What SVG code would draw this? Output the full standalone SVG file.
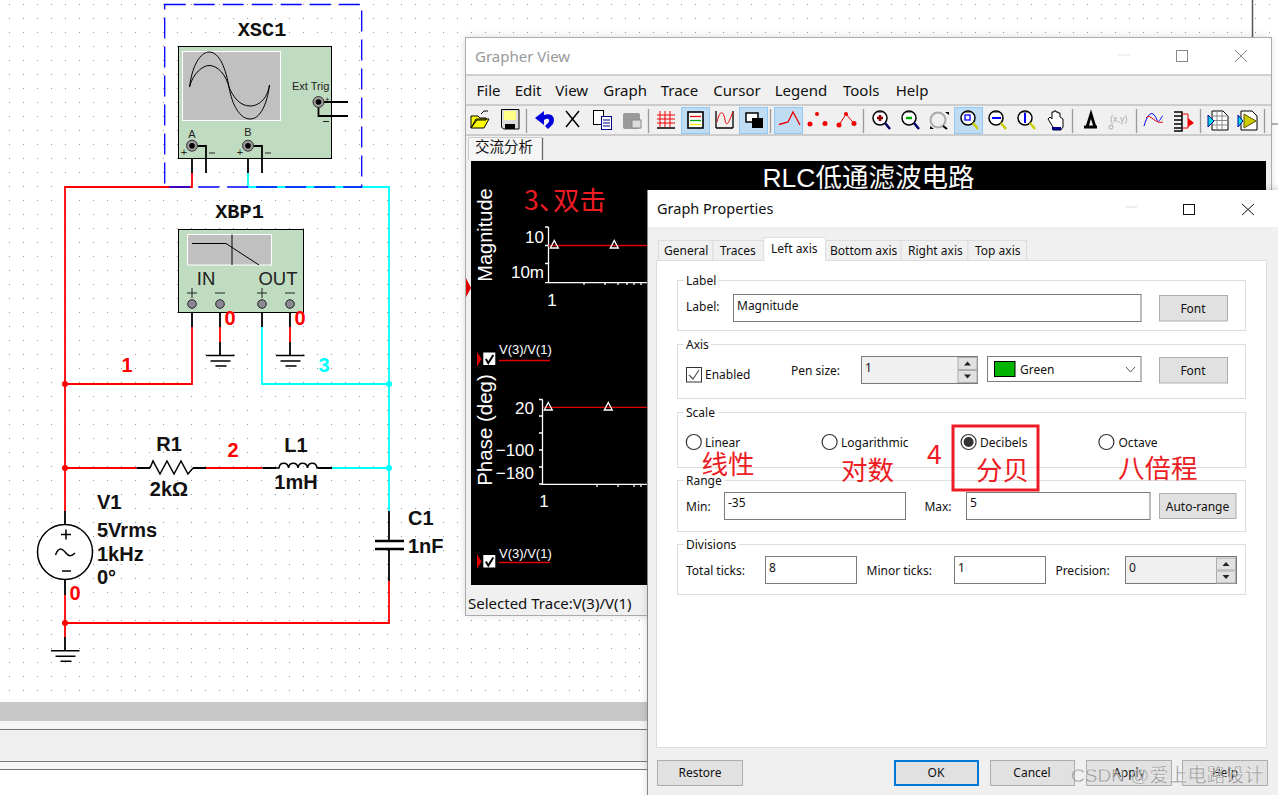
<svg xmlns="http://www.w3.org/2000/svg" xmlns:xlink="http://www.w3.org/1999/xlink" width="1278" height="795" viewBox="0 0 1278 795">
<defs>
<pattern id="grid" patternUnits="userSpaceOnUse" width="14" height="14"><rect x="9" y="4" width="1" height="1" fill="#969696"/></pattern>
<filter id="sh" x="-5%" y="-5%" width="110%" height="110%"><feGaussianBlur stdDeviation="4"/></filter>
<g id="gnd"><path d="M-14.500 0H14M-10 5.500H10M-5 10.500H6" stroke="#000" stroke-width="1.600" fill="none"/></g>
<g id="term"><circle r="5.500" fill="#9a9a9a" stroke="#333"/><circle r="2.800" fill="#000"/></g>
<g id="pin"><circle r="4.300" fill="#8c8794" stroke="#222"/></g>
<g id="mag"><circle cx="8" cy="7" r="7" fill="#fff" stroke="#000" stroke-width="1.500"/><path d="M5 1.500h6" stroke="#888"/></g>
<path id="tri" d="M0-4.500L4 3H-4Z" fill="none" stroke="#fff" stroke-width="1.300"/>
<g id="chk"><rect width="12" height="12.500" fill="#fff"/><path d="M2.500 6.500L5 10.500L10 2.500" fill="none" stroke="#000" stroke-width="2"/></g>
<g id="spin"><rect width="19" height="12" fill="#e1e1e1" stroke="#adadad"/><rect y="13" width="19" height="12" fill="#e1e1e1" stroke="#adadad"/><path d="M6 8l3.500-4l3.500 4zM6 17l3.500 4l3.500-4z" fill="#222"/></g>
</defs>
<style>
text{white-space:pre}
.ui{font-family:"Noto Sans","Noto Sans CJK SC",sans-serif;font-size:12px;fill:#111}
.mid{text-anchor:middle}
.end{text-anchor:end}
.menu{font-family:"Noto Sans",sans-serif;font-size:15px;fill:#111}
.plot{font-family:"Liberation Sans","Noto Sans CJK SC",sans-serif;fill:#fff}
.cn{font-family:"Noto Sans CJK SC",sans-serif;fill:#ed1c24;font-size:26.500px}
.comp{font-family:"Liberation Sans",sans-serif;font-weight:bold;font-size:20px;fill:#111}
.net{font-family:"Liberation Sans",sans-serif;font-weight:bold;font-size:20px;fill:#f00;text-anchor:middle}
.mono{font-family:"Liberation Mono",monospace;font-weight:bold;font-size:20.300px;fill:#111;text-anchor:middle}
.sm{font-family:"Liberation Sans",sans-serif;fill:#222}
.k{fill:none;stroke:#000;stroke-width:1.800}
.r{fill:none;stroke:#f00;stroke-width:1.800}
.c{fill:none;stroke:#0ff;stroke-width:1.800}
.g{fill:none;stroke:#ddd}
.box{fill:#fff;stroke:#7a7a7a}
.btn{fill:#e1e1e1;stroke:#adadad}
.on{fill:#c0dcf3;stroke:#90c8f6}
.sep{stroke:#999;stroke-width:1.300}
.radio{fill:#fff;stroke:#333;stroke-width:1.200}
.tab{fill:#f0f0f0;stroke:#ddd}
.ax{fill:none;stroke:#fff;stroke-width:1.300}
.tr{stroke:#e00000;stroke-width:1.300}
</style>

<rect width="1278" height="795" fill="#fff"/>
<rect width="1278" height="702" fill="url(#grid)"/>
<g id="bottom-bars">
<rect y="702" width="650" height="19" fill="#c8c8c8"/>
<rect y="721" width="650" height="48" fill="#f5f5f5"/>
<rect y="729" width="650" height="32" fill="#efefef"/>
<path d="M0 729.500H650M0 761.500H650M0 769.500H650" stroke="#777" fill="none"/>
</g>
<path d="M1252.500 0V37" stroke="#555" stroke-width="1.500"/>
<path d="M1271 124H1278" stroke="#999" stroke-width="1.500"/>

<g id="connectors">
<path class="r" d="M192 173V187H65V511"/>
<path class="r" d="M65 595V637"/>
<path class="r" d="M65 384H192V327"/>
<path class="r" d="M65 468H136.500"/>
<path class="r" d="M206 468H262.500"/>
<path class="r" d="M389 581V623H65"/>
<path class="r" d="M220 327V342M290 327V342"/>
<path class="c" d="M248 173V187H389V511"/>
<path class="c" d="M262 327V384H389"/>
<path class="c" d="M332 468H389"/>
<path class="k" d="M192 146V173M248 146V173M192 304V327M220 304V327M262 304V327M290 304V327M220 342V356M290 342V356"/>
<path class="k" d="M65 511V525M65 580V595M65 637V651M136.500 468H150M193 468H206M262.500 468H276M318 468H332M389 511V541M389 549V581"/>
<g fill="#f00"><circle cx="65" cy="384" r="3"/><circle cx="65" cy="468" r="3"/><circle cx="65" cy="623" r="3"/></g>
<g fill="#0ff"><circle cx="389" cy="384" r="3"/><circle cx="389" cy="468" r="3"/></g>
</g>

<g id="XSC1">
<rect x="164.700" y="4.500" width="197" height="182.500" fill="none" stroke="#00f" stroke-width="1.300" stroke-dasharray="21 8"/>
<text class="mono" x="262" y="35.500">XSC1</text>
<rect x="178.500" y="46.500" width="153" height="112" fill="#c0dcc0" stroke="#000"/>
<rect x="182.500" y="51.500" width="98" height="69" fill="#c0c0c0" stroke="#fff"/>
<path d="M189.500 87C193 60 203 52 209 52C220 52 226 70 229 87C232 105 240 119 250 119C260 119 267 105 269.500 85" fill="none" stroke="#000"/>
<path d="M189.500 87C193 73 203 65.500 209 65.500C218 65.500 226 75 229 87C233 97 240 106 250 106C258 106 267 100 269.500 85" fill="none" stroke="#000"/>
<text class="sm" x="292" y="89.500" font-size="11">Ext Trig</text>
<path class="k" d="M318.500 102H348M318.500 102V116H348"/>
<use xlink:href="#term" href="#term" x="318.500" y="102"/>
<text class="sm" x="325" y="102" font-size="8">+</text>
<path d="M323 121.500H329" stroke="#222"/>
<path class="k" d="M192 146H206V173M248 146H262V173"/>
<use xlink:href="#term" href="#term" x="192" y="145.700"/>
<use xlink:href="#term" href="#term" x="248" y="145.700"/>
<text class="sm mid" x="192" y="138" font-size="11">A</text>
<text class="sm mid" x="248" y="136" font-size="11">B</text>
<text class="sm mid" x="184" y="156" font-size="11">+</text>
<text class="sm mid" x="240" y="156" font-size="11">+</text>
<path d="M209 153H215M265 153H271" stroke="#222"/>
</g>

<g id="XBP1">
<text class="mono" x="239.500" y="218">XBP1</text>
<rect x="178.500" y="229.500" width="125" height="83" fill="#c0dcc0" stroke="#000"/>
<rect x="187.500" y="234.500" width="84" height="30.500" fill="#c0c0c0" stroke="#fff"/>
<path d="M192 243.500H226L259 265M232 234.500V265" fill="none" stroke="#000"/>
<text class="sm mid" x="206" y="285" font-size="18.500">IN</text>
<text class="sm mid" x="278" y="285" font-size="18.500">OUT</text>
<path d="M187 293H197M192 288V298M215 293H225M257 293H267M262 288V298M285 293H295" stroke="#222" fill="none"/>
<use xlink:href="#pin" href="#pin" x="192" y="304"/>
<use xlink:href="#pin" href="#pin" x="220" y="304"/>
<use xlink:href="#pin" href="#pin" x="262" y="304"/>
<use xlink:href="#pin" href="#pin" x="290" y="304"/>
</g>

<g id="GND1"><use xlink:href="#gnd" href="#gnd" x="220.500" y="355.500"/></g>
<g id="GND2"><use xlink:href="#gnd" href="#gnd" x="290.500" y="355.500"/></g>
<g id="GND3"><use xlink:href="#gnd" href="#gnd" x="65.500" y="650.700"/></g>

<g id="R1">
<path d="M150 468L153 461L160 474L167 461L174 474L181 461L188 474L193 468" fill="none" stroke="#000" stroke-width="1.500"/>
<text class="comp mid" x="169" y="451">R1</text>
<text class="comp mid" x="169" y="495.500">2kΩ</text>
</g>
<g id="L1">
<path d="M276 468H279a4.800 5.500 0 0 1 9.500 0a4.800 5.500 0 0 1 9.500 0a4.800 5.500 0 0 1 9.500 0a4.800 5.500 0 0 1 9.500 0H318" fill="none" stroke="#000" stroke-width="1.500"/>
<text class="comp mid" x="296" y="452">L1</text>
<text class="comp mid" x="296" y="489">1mH</text>
</g>
<g id="C1">
<path d="M375 541H404M375 549H404" stroke="#000" stroke-width="2.500"/>
<text class="comp" x="408" y="525">C1</text>
<text class="comp" x="408" y="553">1nF</text>
</g>
<g id="V1">
<circle cx="65" cy="552" r="27.500" fill="#fff" stroke="#000" stroke-width="1.500"/>
<path d="M61 534.500H71M66 529.500V539.500M62 571H71M55.500 555C59 546 63 549 66 553C69 557 72 556 75 553" fill="none" stroke="#000" stroke-width="1.500"/>
<text class="comp" x="97" y="509">V1</text>
<text class="comp" x="97" y="537">5Vrms</text>
<text class="comp" x="97" y="561">1kHz</text>
<text class="comp" x="97" y="584">0°</text>
</g>

<g id="net-labels">
<text class="net" x="230" y="325">0</text>
<text class="net" x="300" y="325">0</text>
<text class="net" x="127" y="372">1</text>
<text class="net" x="324" y="372" style="fill:#0ff">3</text>
<text class="net" x="233" y="457">2</text>
<text class="net" x="75" y="600">0</text>
</g>

<g id="grapher-view">
<rect x="465" y="37" width="806" height="578" fill="#000" opacity=".14" filter="url(#sh)"/>
<rect x="465.500" y="37.500" width="806" height="578" fill="#f0f0f0" stroke="#aaa"/>
<rect x="466" y="38" width="805" height="37" fill="#fff"/>
<path d="M466 75H1271M466 105H1271M466 135H1271" stroke="#a8a8a8" fill="none"/>
<text x="475" y="61.700" font-family="Noto Sans,sans-serif" font-size="15" fill="#999">Grapher View</text>
<path d="M1118 55H1130" stroke="#e4e4e4"/>
<rect x="1176.500" y="50.500" width="11" height="11" fill="none" stroke="#888"/>
<path d="M1235 50L1247 62M1247 50L1235 62" stroke="#888" fill="none"/>
<g id="menu" class="menu">
<text x="476.500" y="96">File</text><text x="514.700" y="96">Edit</text><text x="555.300" y="96">View</text><text x="603.300" y="96">Graph</text><text x="660.700" y="96">Trace</text><text x="713.300" y="96">Cursor</text><text x="774.700" y="96">Legend</text><text x="843" y="96">Tools</text><text x="895.700" y="96">Help</text>
</g>
<g id="toolbar">
<rect class="on" x="681.500" y="107.500" width="28" height="26"/>
<rect class="on" x="739.500" y="107.500" width="28" height="26"/>
<rect class="on" x="774.500" y="107.500" width="28" height="26"/>
<rect class="on" x="954.500" y="107.500" width="28" height="26"/>
<path class="sep" d="M526.500 109V133M648.500 109V133M770.500 109V133M863.500 109V133M1072.500 109V133M1136.500 109V133M1200.500 109V133M1264.500 109V133"/>
<path d="M471 128V116h7l2 2h6v2H477l-6 8zM471 128l5-9h13l-5 9z" fill="#ff0" stroke="#000"/><path d="M481 114l3-3h4" fill="none" stroke="#000"/>
<path d="M501.500 109.500H519V129H503.500L501.500 127Z" fill="#ddd" stroke="#000"/><rect x="504" y="111" width="12" height="9" fill="#ff8"/><rect x="505" y="124" width="10" height="5" fill="#000"/>
<path d="M535 118L544 111V115C552 112 556 118 553 124L548 129L545 126L549 122C550 118 547 118 544 120V125Z" fill="#00d"/>
<path d="M566 111L579 127M579 111L566 127" stroke="#000" stroke-width="1.500"/>
<rect x="593.500" y="110.500" width="10" height="14" fill="#fff" stroke="#000"/><rect x="601.500" y="116.500" width="10" height="13" fill="#fff" stroke="#008"/><path d="M603 120H610M603 123H610M603 126H610" stroke="#008"/>
<rect x="623" y="113" width="17" height="16" rx="2" fill="#999"/><rect x="632" y="120" width="9" height="8" fill="#ddd" stroke="#888"/>
<path d="M657 115H675M657 119H675M657 123H675M660 111V127M665 111V127M670 111V127" stroke="#e00" fill="none"/><path d="M657 128H675" stroke="#000" stroke-width="1.500"/>
<rect x="688" y="112" width="15" height="16" fill="#fff" stroke="#000" stroke-width="1.600"/><path d="M690 116.500H701" stroke="#e00" stroke-width="1.300"/><path d="M690 120.500H701" stroke="#0a0" stroke-width="1.300"/><path d="M690 124.500H701" stroke="#ee0" stroke-width="1.300"/>
<path d="M716 128V111M733 128V111M716 128H733" stroke="#000" fill="none" stroke-width="1.300"/><path d="M717 122C720 108 724 112 725 120C727 130 730 118 733 112" stroke="#e00" fill="none"/>
<rect x="746" y="113" width="12" height="9" fill="#fff" stroke="#000" stroke-width="1.500"/><rect x="752" y="118" width="11" height="10" fill="#000"/>
<path d="M779 124.500L788 122L793 112L800 125" fill="none" stroke="#e00" stroke-width="1.300"/>
<g fill="#e00"><circle cx="810" cy="124" r="2.500"/><circle cx="817" cy="114" r="2"/><circle cx="825" cy="123.500" r="2.500"/><circle cx="839" cy="125" r="2.500"/><circle cx="846" cy="114" r="2"/><circle cx="854" cy="123.500" r="2.500"/></g>
<path d="M839 125L846 114L854 123.500" fill="none" stroke="#e00"/>
<use xlink:href="#mag" href="#mag" x="872" y="111"/><path d="M877 118h6M880 115v6" stroke="#800" stroke-width="2.500"/><path d="M885 123l5 6" stroke="#006" stroke-width="2.500"/>
<use xlink:href="#mag" href="#mag" x="901" y="111"/><path d="M906 118h6" stroke="#0a0" stroke-width="2.500"/><path d="M914 123l5 6" stroke="#006" stroke-width="2.500"/>
<circle cx="938" cy="120" r="7.500" fill="#eee" stroke="#aaa" stroke-width="2"/><path d="M930 129h4l-4-3zM949 112h-4l4 3z" fill="#000"/><path d="M943 126l4 3" stroke="#000" stroke-width="2"/>
<use xlink:href="#mag" href="#mag" x="960" y="111"/><rect x="965" y="115" width="5" height="5" fill="none" stroke="#00f" stroke-width="1.300"/><path d="M973 123l5 6" stroke="#cc0" stroke-width="2.500"/>
<use xlink:href="#mag" href="#mag" x="988" y="111"/><path d="M992 118h9" stroke="#00f" stroke-width="2"/><path d="M1001 123l5 6" stroke="#cc0" stroke-width="2.500"/>
<use xlink:href="#mag" href="#mag" x="1017" y="111"/><path d="M1025 113v10" stroke="#00f" stroke-width="2"/><path d="M1030 123l5 6" stroke="#cc0" stroke-width="2.500"/>
<path d="M1053 130V127L1048 119L1050 117L1052 119V112H1054V111H1056V112H1058V113H1060V117L1063 119V127L1061 130Z" fill="#fff" stroke="#000"/><rect x="1052" y="127" width="9" height="3" fill="#008"/>
<path d="M1084 127H1097M1087 127L1091 114L1095 127" fill="none" stroke="#000" stroke-width="2.800"/>
<text x="1110" y="122" font-family="Liberation Sans,sans-serif" font-size="9" fill="#aaa">(x,y)</text><circle cx="1111" cy="127" r="2" fill="none" stroke="#aaa"/>
<path d="M1144 126C1150 106 1155 115 1157 120C1159 125 1161 116 1163 116" stroke="#00f" fill="none"/><path d="M1146 118C1150 112 1155 125 1163 122" stroke="#e00" fill="none"/>
<path d="M1174 112H1182V131H1174M1174 116H1182M1174 120H1182M1174 124H1182M1174 128H1182" stroke="#000" stroke-width="1.500" fill="none"/><path d="M1182 114H1188V123M1182 128H1188V123" stroke="#e00" fill="none"/><path d="M1188 118L1194 123L1188 127Z" fill="#e00"/>
<path d="M1212 111H1223L1228 116V130H1212Z" fill="#fff" stroke="#000"/><path d="M1212 116H1228M1212 120.500H1228M1212 125H1228M1217 111V130M1222 111V130" stroke="#888" fill="none"/><path d="M1208 115L1214 121L1208 127Z" fill="#0dd" stroke="#00a"/>
<path d="M1241 111H1252L1257 116V130H1241Z" fill="#fff" stroke="#000"/><path d="M1238 115L1243 121L1238 127Z" fill="#0dd" stroke="#00a"/><path d="M1244 114L1256 121L1244 128Z" fill="#cc0" stroke="#550"/>
</g>
<path d="M468.500 160V137.500H542.500V160" fill="#f6f6f6" stroke="#ccc"/><path d="M542.500 138V160" stroke="#666" stroke-width="1.300"/>
<text x="475" y="152" font-family="Noto Sans CJK SC,sans-serif" font-size="14.500" fill="#111">交流分析</text>
<rect x="471" y="161" width="795" height="424" fill="#000"/>
<text class="plot mid" x="868.500" y="187" font-size="26.500">RLC低通滤波电路</text>
<text class="plot mid" transform="translate(492 235) rotate(-90)" font-size="20">Magnitude</text>
<text class="plot mid" transform="translate(492 430) rotate(-90)" font-size="20.500">Phase (deg)</text>
<path class="ax" d="M548.500 227V282.700H648M545 227H548.500M545 245.500H548.500M545 263.500H548.500M545 282.700H548.500M584 282V285M605 282V285M618 282V285M627 282V285M634 282V285M641 282V285"/>
<path class="tr" d="M548.500 245.500H648M542 407.300H648"/>
<use xlink:href="#tri" href="#tri" x="554.300" y="245"/><use xlink:href="#tri" href="#tri" x="614.300" y="245"/>
<text class="plot end" x="544" y="242.700" font-size="17">10</text>
<text class="plot end" x="544" y="277.700" font-size="17">10m</text>
<text class="plot mid" x="552" y="305.700" font-size="17">1</text>
<path class="ax" d="M542.500 399.500V484.300H648M539 399.500H542.500M539 416H542.500M539 433H542.500M539 450H542.500M539 467H542.500M539 484H542.500M597 484V487M618 484V487M634 484V487M641 484V487"/>
<use xlink:href="#tri" href="#tri" x="548.300" y="407"/><use xlink:href="#tri" href="#tri" x="608.300" y="407"/>
<text class="plot end" x="534" y="414.300" font-size="17">20</text>
<text class="plot end" x="534" y="455.700" font-size="17">−100</text>
<text class="plot end" x="534" y="479.300" font-size="17">−180</text>
<text class="plot mid" x="544" y="507.300" font-size="17">1</text>
<path d="M466 278L471 288L466 297Z" fill="#e00000"/>
<path d="M477 351.700L481.500 359L477 366.700Z" fill="#e00000"/>
<use xlink:href="#chk" href="#chk" x="483.300" y="352.500"/>
<text class="plot" x="499" y="354.300" font-size="13">V(3)/V(1)</text>
<path d="M499 360.500H550" stroke="#e00000" stroke-width="1.300"/>
<path d="M477 554L481.500 561.500L477 569Z" fill="#e00000"/>
<use xlink:href="#chk" href="#chk" x="483.300" y="555"/>
<text class="plot" x="499" y="557.700" font-size="13">V(3)/V(1)</text>
<path d="M499 562.500H550" stroke="#e00000" stroke-width="1.300"/>
<text x="468" y="609" font-family="Noto Sans,sans-serif" font-size="15" fill="#111">Selected Trace:V(3)/V(1)</text>
<text class="cn" x="524" y="210" font-size="27">3、<tspan x="553">双击</tspan></text>
</g>

<g id="graph-properties">
<rect x="648" y="190" width="640" height="615" fill="#000" opacity=".2" filter="url(#sh)"/>
<rect x="648" y="190" width="630" height="605" fill="#f0f0f0"/>
<path d="M647.500 190V795" stroke="#888"/>
<rect x="648" y="190" width="630" height="37" fill="#fff"/>
<text x="657" y="214" font-family="Noto Sans,sans-serif" font-size="14.500" fill="#111">Graph Properties</text>
<path d="M1125 207H1137" stroke="#ddd"/>
<rect x="1183.500" y="204.500" width="11" height="10" fill="none" stroke="#111"/>
<path d="M1242 204L1254 215M1254 204L1242 215" stroke="#111" fill="none"/>
<rect x="656.500" y="260.500" width="610" height="487" fill="#fff" stroke="#ddd"/>
<rect class="tab" x="658.500" y="240.500" width="54.500" height="20"/>
<rect class="tab" x="713" y="240.500" width="50.700" height="20"/>
<rect class="tab" x="825.600" y="240.500" width="75.400" height="20"/>
<rect class="tab" x="901" y="240.500" width="67" height="20"/>
<rect class="tab" x="968" y="240.500" width="58.500" height="20"/>
<path d="M763.700 261V237.500H825.600V261" fill="#fff" stroke="#ddd"/>
<g class="ui">
<text x="664" y="255">General</text><text x="720" y="255">Traces</text><text x="771" y="253">Left axis</text><text x="830" y="255">Bottom axis</text><text x="908" y="255">Right axis</text><text x="975" y="255">Top axis</text>
</g>
<rect class="g" x="677.500" y="280.500" width="568" height="50"/>
<rect class="g" x="677.500" y="344.500" width="568" height="54"/>
<rect class="g" x="677.500" y="412.500" width="568" height="55"/>
<rect class="g" x="677.500" y="480.500" width="568" height="51"/>
<rect class="g" x="677.500" y="544.500" width="568" height="50"/>
<g fill="#fff"><rect x="684" y="276" width="35" height="9"/><rect x="684" y="340" width="27" height="9"/><rect x="684" y="408" width="35" height="9"/><rect x="684" y="476" width="40" height="9"/><rect x="684" y="540" width="55" height="9"/></g>
<g class="ui">
<text x="686" y="285">Label</text>
<text x="686" y="349">Axis</text>
<text x="686" y="416.700">Scale</text>
<text x="686" y="485">Range</text>
<text x="686" y="548.700">Divisions</text>
<text x="686" y="310.600">Label:</text>
</g>
<rect class="box" x="733.500" y="294.500" width="407.500" height="27"/>
<text class="ui" x="737" y="310">Magnitude</text>
<rect class="btn" x="1159.500" y="295.500" width="68" height="25.500"/>
<text class="ui mid" x="1193" y="313">Font</text>
<rect x="686.500" y="367.500" width="15" height="14.500" fill="#fff" stroke="#333"/>
<path d="M689 375L693 379L699 370" fill="none" stroke="#555" stroke-width="1.200"/>
<text class="ui" x="705" y="378.700">Enabled</text>
<text class="ui" x="791" y="374.700">Pen size:</text>
<rect x="861.500" y="356.500" width="116" height="27" fill="#f0f0f0" stroke="#7a7a7a"/>
<text class="ui" x="865" y="371.700">1</text>
<use xlink:href="#spin" href="#spin" x="958" y="357.500"/>
<rect class="box" x="987.500" y="356.500" width="153.500" height="25"/>
<rect x="994.500" y="361.500" width="20.500" height="15" fill="#00b400" stroke="#000"/>
<text class="ui" x="1020" y="374">Green</text>
<path d="M1126 367L1130.500 372L1135 367" fill="none" stroke="#555"/>
<rect class="btn" x="1159.500" y="357.500" width="68" height="25.500"/>
<text class="ui mid" x="1193" y="375">Font</text>
<circle class="radio" cx="693.800" cy="442" r="7.500"/>
<text class="ui" x="705" y="446.700">Linear</text>
<circle class="radio" cx="829.600" cy="442" r="7.500"/>
<text class="ui" x="841" y="446.700">Logarithmic</text>
<circle class="radio" cx="968.600" cy="442" r="7.500"/><circle cx="968.600" cy="442" r="5" fill="#333"/>
<text class="ui" x="980" y="446.700">Decibels</text>
<circle class="radio" cx="1106.400" cy="442" r="7.500"/>
<text class="ui" x="1118.500" y="446.700">Octave</text>
<text class="ui" x="686" y="510.700">Min:</text>
<rect class="box" x="724.500" y="492.500" width="181" height="27"/>
<text class="ui" x="728" y="507">-35</text>
<text class="ui" x="924.400" y="510.700">Max:</text>
<rect class="box" x="966.500" y="492.500" width="183.500" height="27"/>
<text class="ui" x="970" y="507">5</text>
<rect class="btn" x="1159.500" y="493.500" width="76.500" height="25"/>
<text class="ui mid" x="1197.500" y="511">Auto-range</text>
<text class="ui" x="686" y="575">Total ticks:</text>
<rect class="box" x="765.500" y="556.500" width="91" height="27"/>
<text class="ui" x="769" y="572">8</text>
<text class="ui" x="866.600" y="575">Minor ticks:</text>
<rect class="box" x="954.500" y="556.500" width="91" height="27"/>
<text class="ui" x="958" y="572">1</text>
<text class="ui" x="1055.400" y="575">Precision:</text>
<rect x="1125.500" y="556.500" width="111" height="27" fill="#f0f0f0" stroke="#7a7a7a"/>
<text class="ui" x="1129" y="572">0</text>
<use xlink:href="#spin" href="#spin" x="1216.500" y="558"/>
<rect class="btn" x="657.500" y="760.500" width="85" height="25"/>
<text class="ui mid" x="700" y="777">Restore</text>
<rect x="895" y="761" width="83" height="24" fill="#e1e1e1" stroke="#0078d7" stroke-width="2"/>
<text class="ui mid" x="936" y="777">OK</text>
<rect class="btn" x="990.500" y="760.500" width="84" height="25"/>
<text class="ui mid" x="1032" y="777">Cancel</text>
<rect class="btn" x="1086.500" y="760.500" width="85" height="25"/>
<text class="ui mid" x="1129" y="777">Apply</text>
<rect class="btn" x="1182.500" y="760.500" width="85" height="25"/>
<text class="ui mid" x="1225" y="777">Help</text>
<text class="cn" x="701.500" y="474">线性</text>
<text class="cn" x="841" y="480">对数</text>
<text class="cn" x="927" y="464" font-size="24">4</text>
<text class="cn" x="976" y="480">分贝</text>
<text class="cn" x="1118" y="478">八倍程</text>
<rect x="953" y="426" width="85" height="64" fill="none" stroke="#ed1c24" stroke-width="3"/>
</g>
<text id="watermark" x="1071" y="782" font-family="Liberation Sans,Noto Sans CJK SC,sans-serif" font-size="19" fill="#808080" fill-opacity=".8" stroke="#fff" stroke-width=".3">CSDN @爱上电路设计</text>
</svg>
